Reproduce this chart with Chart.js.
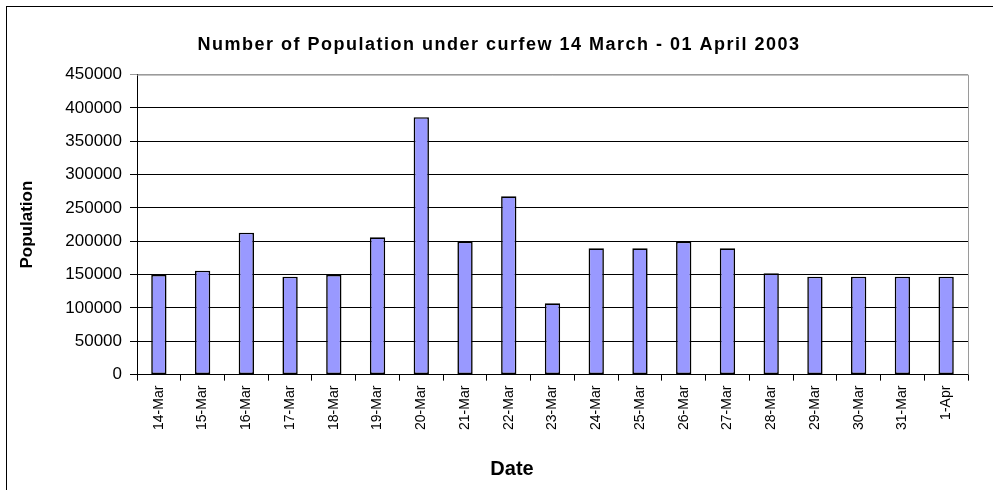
<!DOCTYPE html>
<html>
<head>
<meta charset="utf-8">
<script src="https://cdn.jsdelivr.net/npm/chart.js@4/dist/chart.umd.min.js"></script>
<style>
  html, body { margin: 0; padding: 0; background: #fff; overflow: hidden; }
  .frame { position: absolute; left: 6px; top: 6px; width: 1100px; height: 600px;
           border-left: 1px solid #000; border-top: 1px solid #000; }
  .wrap { position: absolute; left: 0; top: 0; width: 993px; height: 490px; }
</style>
</head>
<body>
<div class="frame"></div>
<div class="wrap"><canvas id="curfewChart" width="993" height="490"></canvas></div>
<script>
// Population under curfew, 14 March - 01 April 2003
const dates = ["14-Mar", "15-Mar", "16-Mar", "17-Mar", "18-Mar", "19-Mar", "20-Mar", "21-Mar", "22-Mar", "23-Mar",
  "24-Mar", "25-Mar", "26-Mar", "27-Mar", "28-Mar", "29-Mar", "30-Mar", "31-Mar", "1-Apr"];
const population = [149500, 156000, 213000, 147000, 149500, 206000, 386000, 199500, 267500, 107000,
  189500, 189500, 199500, 189500, 152000, 147000, 147000, 147000, 147000];
const yTicks = [0, 50000, 100000, 150000, 200000, 250000, 300000, 350000, 400000, 450000];

const FONT = "'Liberation Sans', Arial, sans-serif";

// gray frame on the top/right of the plot area, like the Excel original
const plotFrame = {
  id: "plotFrame",
  afterDraw(chart) {
    const { ctx, chartArea: a } = chart;
    ctx.save();
    ctx.strokeStyle = "#9a9a9a";
    ctx.lineWidth = 1;
    ctx.beginPath();
    ctx.moveTo(a.left, a.top + 0.5);
    ctx.lineTo(a.right + 0.5, a.top + 0.5);
    ctx.lineTo(a.right + 0.5, a.bottom);
    ctx.stroke();
    ctx.restore();
  },
};

// Excel spaces its title letters out and sits the titles a bit right of the canvas centre
const titleTweaks = {
  id: "titleTweaks",
  afterLayout(chart) {
    for (const box of chart.boxes) {
      const text = box.options && box.options.text;
      if (!text || typeof text !== "string" || box.isHorizontal === undefined) continue;
      const shift = text === "Date" ? 21 : 8;
      box.left += shift;
      box.right += shift;
      if (!box._spaced && text !== "Date") {
        const draw = box.draw.bind(box);
        box.draw = () => {
          chart.ctx.save();
          chart.ctx.letterSpacing = "1.5px";
          draw();
          chart.ctx.restore();
        };
        box._spaced = true;
      }
    }
  },
};

new Chart(document.getElementById("curfewChart"), {
  type: "bar",
  data: {
    labels: dates,
    datasets: [{
      label: "Population",
      data: population,
      backgroundColor: "#9999ff",
      borderColor: "#000",
      borderWidth: 1.6,
      borderSkipped: false,
      barPercentage: 0.35,
      categoryPercentage: 1,
    }],
  },
  plugins: [plotFrame, titleTweaks],
  options: {
    responsive: false,
    animation: false,
    layout: { padding: { left: 14, right: 25, top: 0, bottom: 0 } },
    plugins: {
      legend: { display: false },
      tooltip: { enabled: false },
      title: {
        display: true,
        text: "Number of Population under curfew 14 March - 01 April 2003",
        color: "#000",
        font: { family: FONT, size: 18, weight: "bold" },
        padding: { top: 34, bottom: 19 },
      },
      subtitle: {
        display: true,
        position: "bottom",
        text: "Date",
        color: "#000",
        font: { family: FONT, size: 20, weight: "bold" },
        padding: { top: 22, bottom: 9 },
      },
    },
    scales: {
      x: {
        grid: { display: true, drawOnChartArea: false, drawTicks: true, tickLength: 6, color: "#000", offset: true },
        border: { color: "#000", width: 1 },
        ticks: {
          color: "#000",
          font: { family: FONT, size: 14 },
          maxRotation: 90,
          minRotation: 90,
          padding: 5,
          autoSkip: false,
        },
      },
      y: {
        min: 0,
        max: 450000,
        afterBuildTicks(scale) { scale.ticks = yTicks.map((v) => ({ value: v })); },
        afterFit(scale) { scale.width = 137 - 14; },
        grid: {
          color: (c) => (c.tick && c.tick.value === 450000 ? "#9a9a9a" : "#000"),
          tickLength: 7,
          drawTicks: true,
        },
        border: { color: "#000", width: 1 },
        ticks: {
          color: "#000",
          font: { family: FONT, size: 17 },
          padding: 8,
          callback: (v) => String(v),
        },
        title: {
          display: true,
          text: "Population",
          color: "#000",
          font: { family: FONT, size: 17, weight: "bold" },
          padding: { top: 3, bottom: 0 },
        },
      },
    },
  },
});
</script>
</body>
</html>
